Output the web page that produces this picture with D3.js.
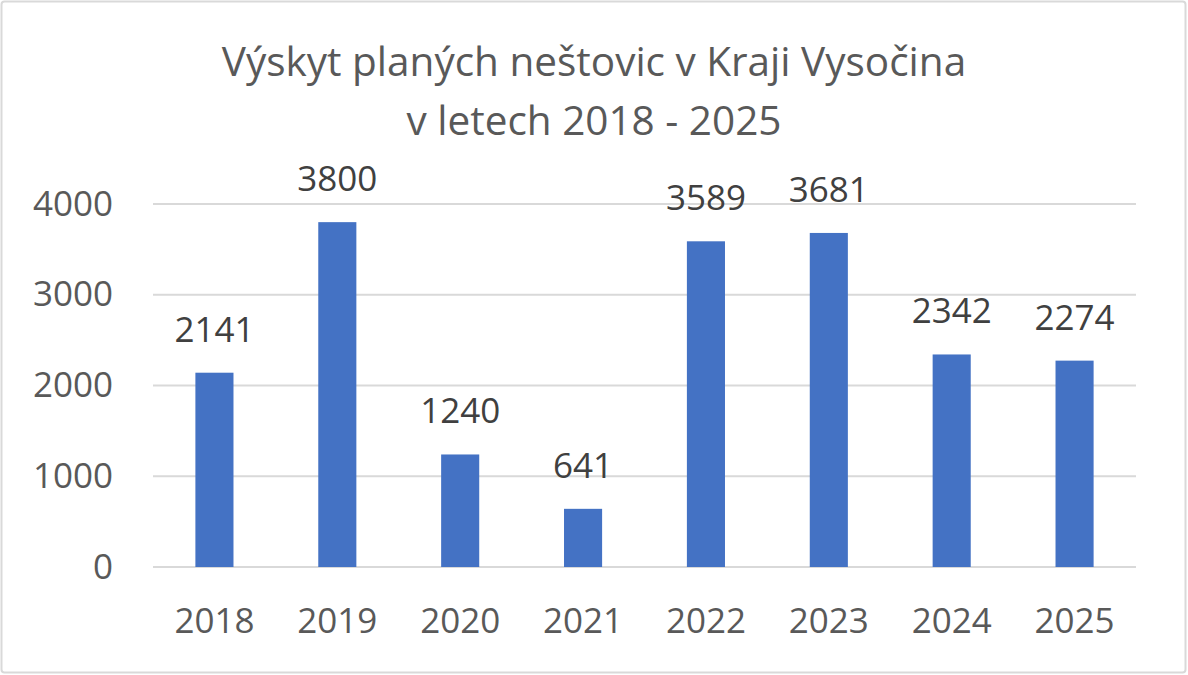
<!DOCTYPE html>
<html>
<head>
<meta charset="utf-8">
<script src="https://cdn.jsdelivr.net/npm/d3@7"></script>
<style>
  body { margin: 0; background: #fff; }
  svg { display: block; }
</style>
</head>
<body>
<svg id="chart" width="1188" height="675"></svg>
<script>
const years = ['2018', '2019', '2020', '2021', '2022', '2023', '2024', '2025'];
const cases = [2141, 3800, 1240, 641, 3589, 3681, 2342, 2274];
const yTicks = [0, 1000, 2000, 3000, 4000];
const titleLines = ['Výskyt planých neštovic v Kraji Vysočina', 'v letech 2018 - 2025'];

const width = 1188;
const height = 675;
const margin = { top: 204, right: 52, bottom: 108, left: 153 };
const font = '"Open Sans", sans-serif';

const svg = d3.select('#chart');

// frame round the whole chart
svg.append('rect')
    .attr('x', 1.5).attr('y', 1.5)
    .attr('width', width - 4).attr('height', height - 4)
    .attr('rx', 3)
    .attr('fill', '#fff')
    .attr('stroke', '#d9d9d9')
    .attr('stroke-width', 2);

const x = d3.scaleBand()
    .domain(years)
    .range([margin.left, width - margin.right])
    .paddingInner(0.69)
    .paddingOuter(0.345);

const y = d3.scaleLinear()
    .domain([0, 4000])
    .range([height - margin.bottom, margin.top]);

// gridlines
svg.append('g')
    .selectAll('line')
    .data(yTicks)
    .join('line')
    .attr('x1', margin.left)
    .attr('x2', width - margin.right)
    .attr('y1', d => y(d))
    .attr('y2', d => y(d))
    .attr('stroke', '#d9d9d9')
    .attr('stroke-width', 2);

// y axis labels
const yAxis = svg.append('g')
    .attr('transform', `translate(${margin.left - 40},0)`)
    .call(d3.axisLeft(y).tickValues(yTicks).tickFormat(d3.format('d')).tickSize(0).tickPadding(0));
yAxis.select('.domain').remove();
yAxis.selectAll('text')
    .attr('font-family', font)
    .attr('font-size', 35)
    .attr('fill', '#595959');

// x axis labels
const xAxis = svg.append('g')
    .attr('transform', `translate(0,${height - margin.bottom})`)
    .call(d3.axisBottom(x).tickSize(0).tickPadding(0));
xAxis.select('.domain').remove();
xAxis.selectAll('text')
    .attr('dy', null)
    .attr('y', 66)
    .attr('font-family', font)
    .attr('font-size', 35)
    .attr('fill', '#595959');

// bars
svg.append('g')
    .selectAll('rect')
    .data(years)
    .join('rect')
    .attr('x', (d, i) => x(d))
    .attr('y', (d, i) => y(cases[i]))
    .attr('width', x.bandwidth())
    .attr('height', (d, i) => y(0) - y(cases[i]))
    .attr('fill', '#4472c4');

// data labels
svg.append('g')
    .selectAll('text')
    .data(years)
    .join('text')
    .attr('x', d => x(d) + x.bandwidth() / 2)
    .attr('y', (d, i) => y(cases[i]) - 31)
    .attr('text-anchor', 'middle')
    .attr('font-family', font)
    .attr('font-size', 35)
    .attr('fill', '#404040')
    .text((d, i) => cases[i]);

// title
svg.append('g')
    .selectAll('text')
    .data(titleLines)
    .join('text')
    .attr('x', width / 2)
    .attr('y', (d, i) => 76 + i * 59)
    .attr('text-anchor', 'middle')
    .attr('font-family', font)
    .attr('font-size', 40.5)
    .attr('fill', '#595959')
    .text(d => d);
</script>
</body>
</html>
